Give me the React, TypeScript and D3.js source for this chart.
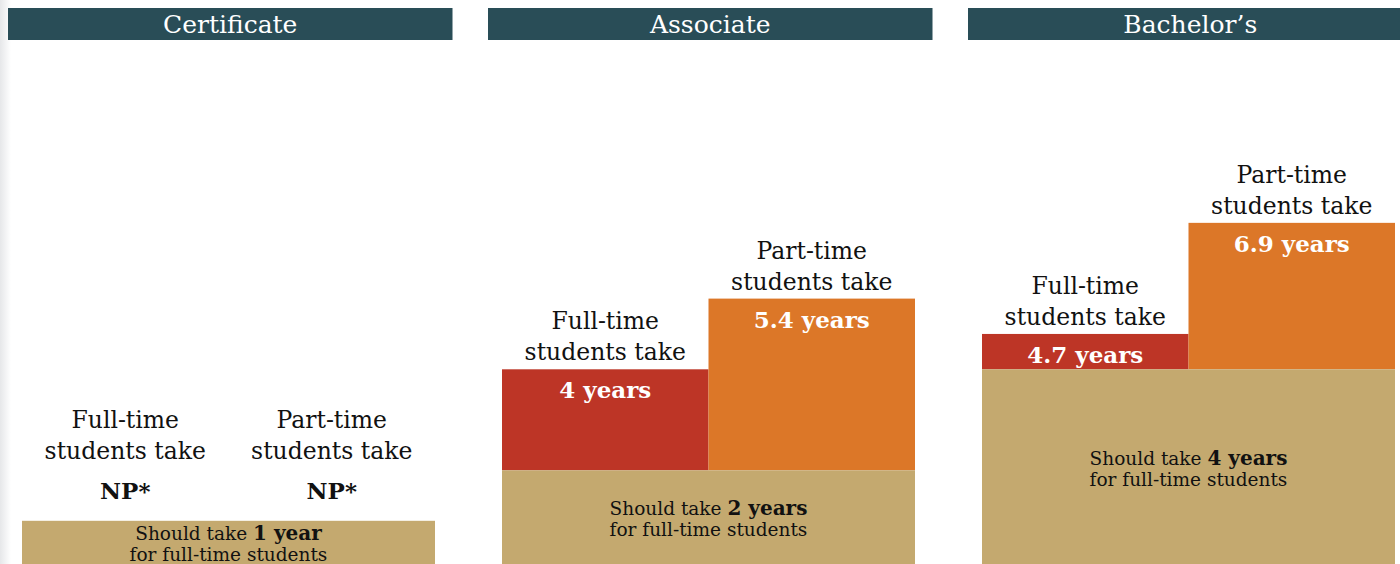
import React from "react";
import * as d3 from "d3";

const degrees = ["Certificate", "Associate", "Bachelor’s"];
const expectedYears = [1, 2, 4];
const fullTimeYears: (number | null)[] = [null, 4, 4.7];
const partTimeYears: (number | null)[] = [null, 5.4, 6.9];
const studentGroups = ["Full-time", "Part-time"];
const missingLabel = "NP*";

const W = 1400;
const H = 564;
const FONT = "'DejaVu Serif', serif";
const C_HEAD = "#294d57";
const C_FT = "#bd3526";
const C_PT = "#dc7728";
const C_BASE = "#c4a96f";

export default function App() {
  const panel = d3.scaleLinear().domain([0, 1]).range([8, 488]);
  const y = d3.scaleLinear().domain([0, 7]).range([571.3, 217.8]);

  return (
    <svg width={W} height={H} style={{ position: "absolute", left: 0, top: 0, background: "#fff" }}>
      <defs>
        <linearGradient id="edge" x1="0" x2="1" y1="0" y2="0">
          <stop offset="0" stopColor="#e6e7e9" />
          <stop offset="1" stopColor="#ffffff" />
        </linearGradient>
      </defs>
      <rect x={0} y={0} width={11} height={H} fill="url(#edge)" />
      {degrees.map((deg, i) => {
        const x0 = panel(i);
        const pw = 444.5;
        const inner = d3.scaleBand<string>().domain(studentGroups).range([x0 + 14, x0 + 427]);
        const vals = [fullTimeYears[i], partTimeYears[i]];
        const base = expectedYears[i];
        const baseTop = y(base);
        const baseMid = (baseTop + H) / 2 + 2;
        return (
          <g key={deg}>
            <rect x={x0} y={8} width={Math.min(pw, W - x0)} height={32} fill={C_HEAD} />
            <text x={x0 + pw / 2} y={32.5} textAnchor="middle" fill="#fff" fontFamily={FONT} fontSize={25}>{deg}</text>
            {vals.map((v, j) => {
              const g = studentGroups[j];
              const bx = inner(g)!;
              const bw = inner.bandwidth();
              const cx = bx + bw / 2;
              const top = v == null ? baseTop : y(v);
              const labelBottom = v == null ? top - 53 : top;
              return (
                <g key={g}>
                  {v != null && (
                    <rect x={bx} y={y(v)} width={bw} height={baseTop - y(v)} fill={j === 0 ? C_FT : C_PT} />
                  )}
                  <text x={cx} y={labelBottom - 40} textAnchor="middle" fontFamily={FONT} fontSize={23.5} fill="#111">{g}</text>
                  <text x={cx} y={labelBottom - 9} textAnchor="middle" fontFamily={FONT} fontSize={23.5} fill="#111">students take</text>
                  {v == null ? (
                    <text x={cx} y={top - 22} textAnchor="middle" fontFamily={FONT} fontSize={23} fontWeight="bold" fill="#111">{missingLabel}</text>
                  ) : (
                    <text x={cx} y={top + 29} textAnchor="middle" fontFamily={FONT} fontSize={23} fontWeight="bold" fill="#fff">{`${v} years`}</text>
                  )}
                </g>
              );
            })}
            <rect x={x0 + 14} y={baseTop} width={413} height={y(0) - baseTop} fill={C_BASE} />
            <text x={x0 + 14 + 206.5} y={baseMid - 4} textAnchor="middle" fontFamily={FONT} fontSize={18.5} fill="#111">
              Should take <tspan fontWeight="bold" fontSize={20}>{`${base} ${base === 1 ? "year" : "years"}`}</tspan>
            </text>
            <text x={x0 + 14 + 206.5} y={baseMid + 17} textAnchor="middle" fontFamily={FONT} fontSize={18.5} fill="#111">for full-time students</text>
          </g>
        );
      })}
    </svg>
  );
}
